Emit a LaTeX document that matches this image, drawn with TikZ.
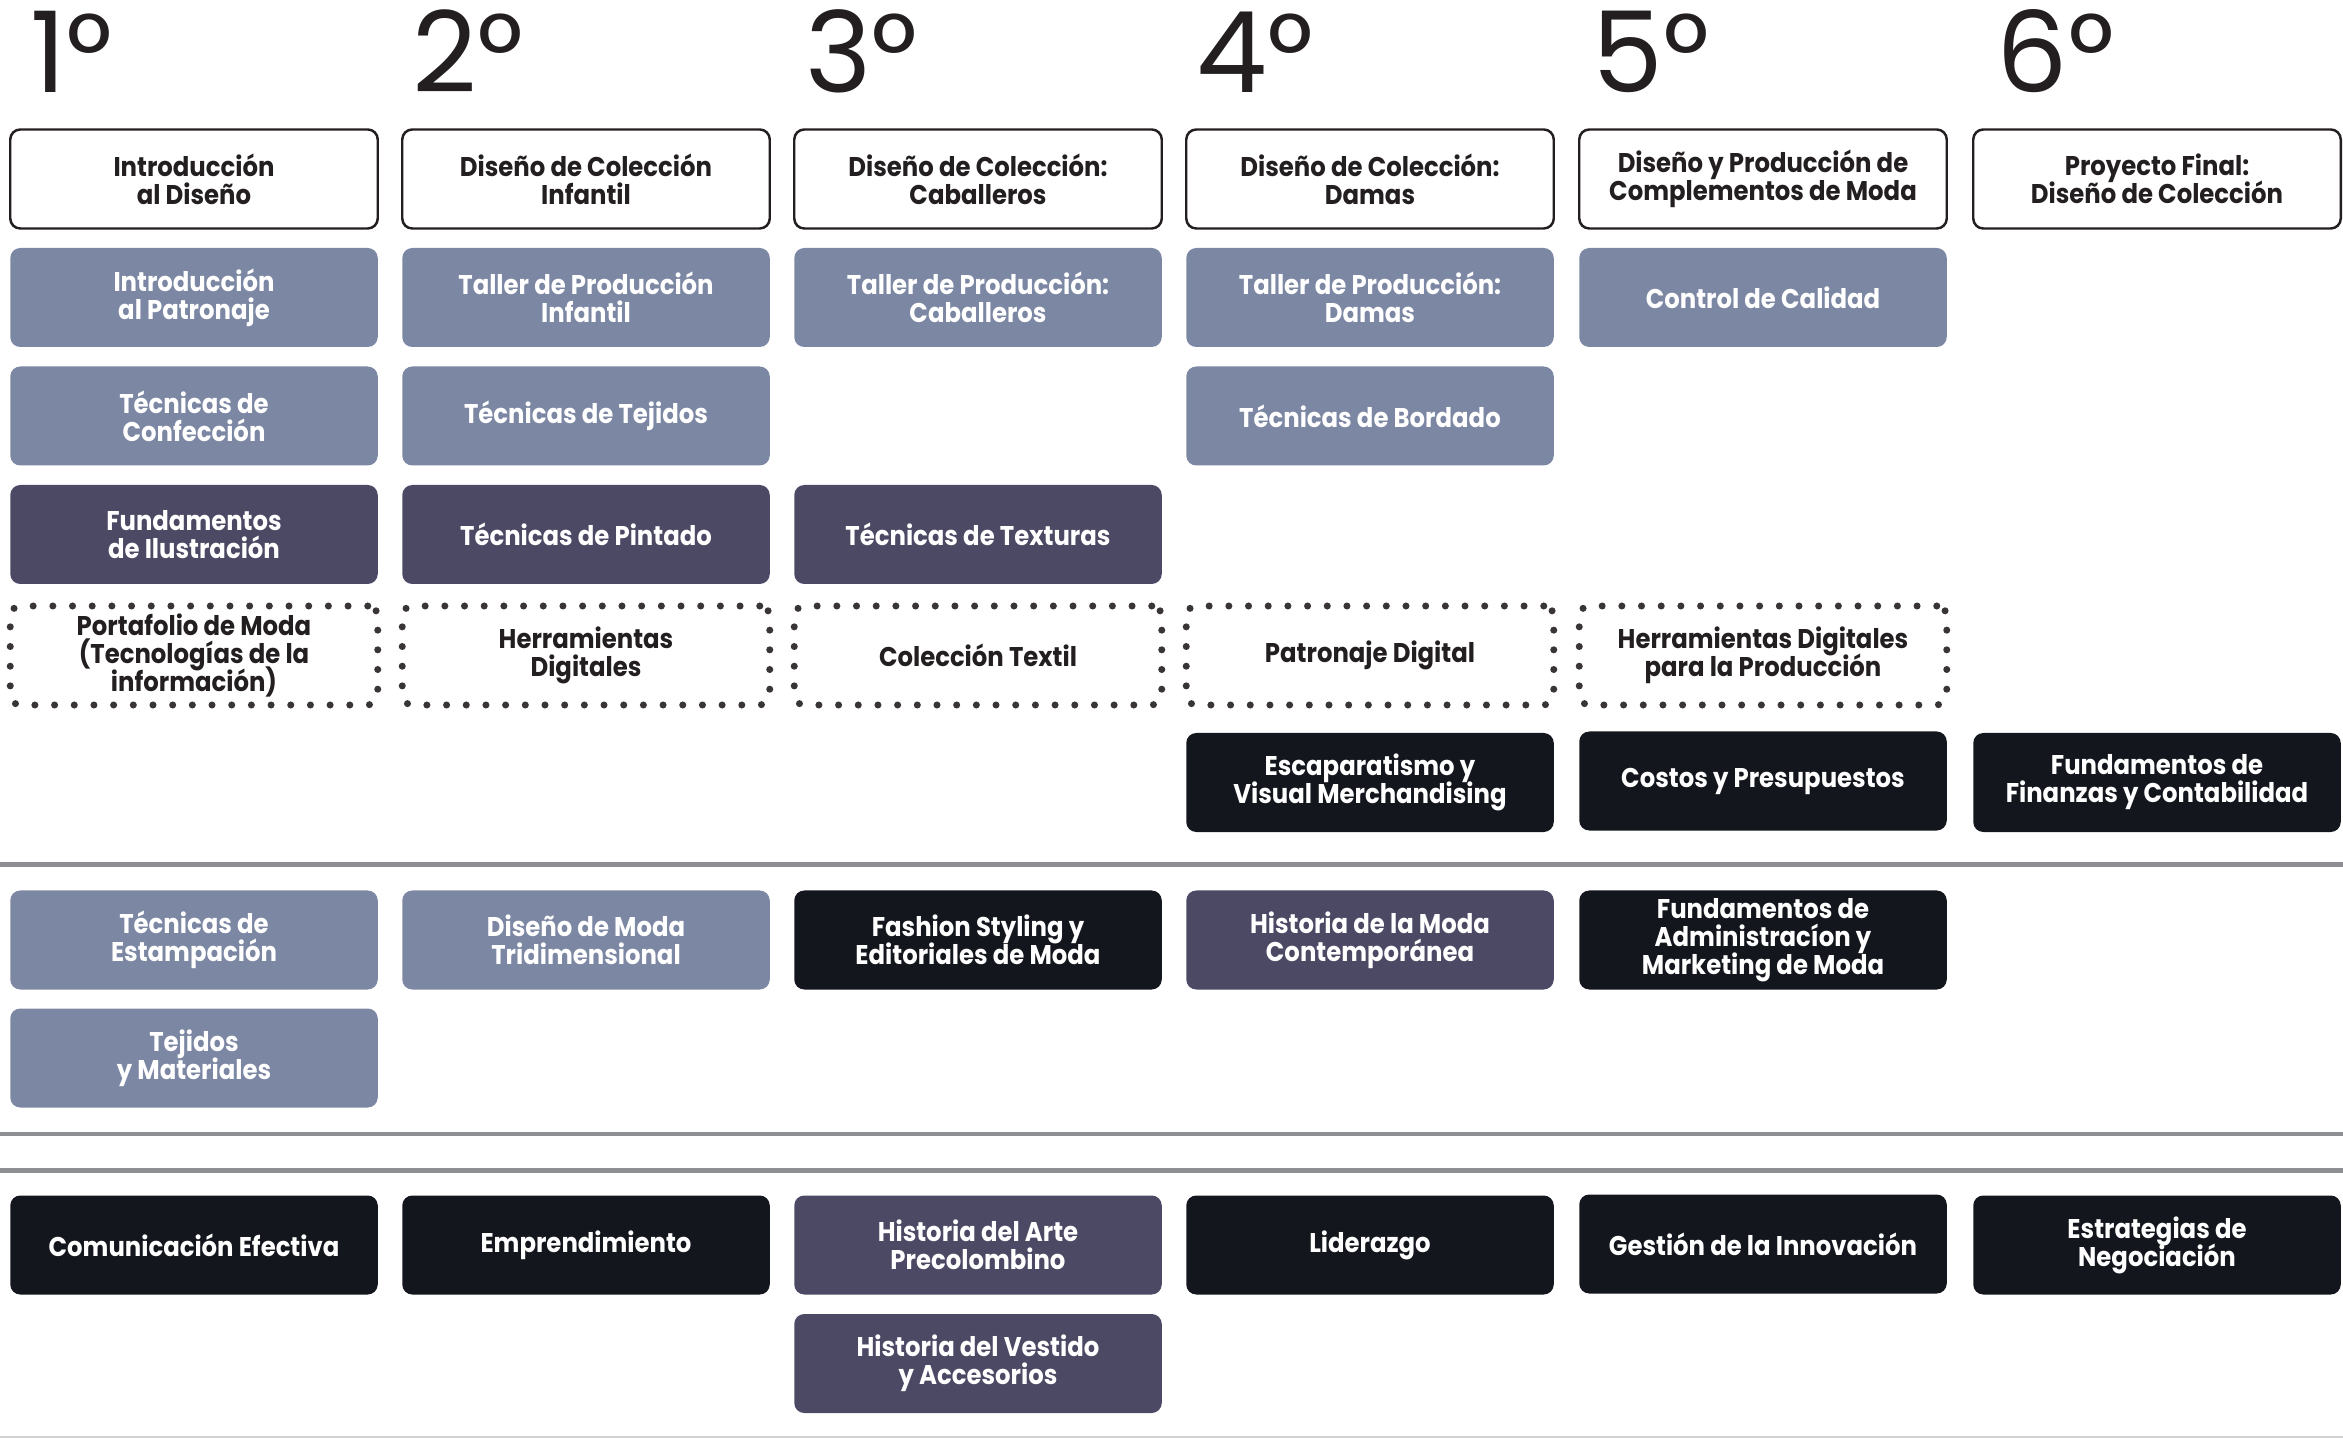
\documentclass[tikz,border=0pt]{standalone}
\usepackage{fontspec}
\newfontfamily\yearfont{Poppins}
\newfontfamily\boxfont{Poppins}[FakeStretch=0.9]
\def\subjfont{\boxfont\bfseries\fontsize{7.7}{8.0}\selectfont\lineskiplimit -20pt\relax}

\definecolor{lightbox}{HTML}{7C87A3}
\definecolor{darkbox}{HTML}{4C4965}
\definecolor{blkbox}{HTML}{13171D}
\definecolor{inkgrey}{HTML}{231F20}
\definecolor{rulegrey}{HTML}{8E8F93}

\tikzset{
	subj/.style={rectangle, rounded corners=0.1cm, minimum width=3.675cm, minimum height=0.99cm,
		align=center, inner sep=0pt, font=\subjfont},
	outlined/.style={subj, draw=inkgrey, line width=0.7pt, text=inkgrey},
	light/.style={subj, fill=lightbox, text=white},
	dark/.style={subj, fill=darkbox, text=white},
	blk/.style={subj, fill=blkbox, text=white},
	digital/.style={subj, draw=inkgrey!90, line width=2pt, line cap=round,
		dash pattern=on 0pt off 5.6pt, text=inkgrey},
	year/.style={anchor=base west, inner sep=0pt, text=inkgrey,
		font=\yearfont\fontsize{32}{32}\selectfont},
	sep/.style={line width=1.4pt, rulegrey}
}

\begin{document}
\begin{tikzpicture}
		%%%%% START %%%%%
		\useasboundingbox (0, 0) rectangle (23.43, -14.38);
		
		% years
		\node[year] (y1) at (0.30, -0.93) {1°};
		\node[year] (y2) at (4.12, -0.93) {2°};
		\node[year] (y3) at (8.05, -0.93) {3°};
		\node[year] (y4) at (11.96, -0.93) {4°};
		\node[year] (y5) at (15.92, -0.93) {5°};
		\node[year] (y6) at (19.96, -0.93) {6°};
		
		% 1st year
		\node[outlined] (introdis) at (1.94, -1.79) {Introducción\\al Diseño};
		\node[light] (intropat) at (1.94, -2.975) {Introducción\\al Patronaje};
		\node[light] (confec) at (1.94, -4.16) {Técnicas de\\Confección};
		\node[dark] (ilustr) at (1.94, -5.345) {Fundamentos\\de Ilustración};
		\node[digital] (portaf) at (1.94, -6.555) {Portafolio de Moda\\(Tecnologías de la\\información)};
		\node[light] (estamp) at (1.94, -9.40) {Técnicas de\\Estampación};
		\node[light] (tejmat) at (1.94, -10.58) {Tejidos\\y Materiales};
		\node[blk] (comunic) at (1.94, -12.45) {Comunicación Efectiva};
		
		% 2nd year
		\node[outlined] (colinf) at (5.86, -1.79) {Diseño de Colección\\Infantil};
		\node[light] (tallinf) at (5.86, -2.975) {Taller de Producción\\Infantil};
		\node[light] (tejidos) at (5.86, -4.16) {Técnicas de Tejidos};
		\node[dark] (pintado) at (5.86, -5.345) {Técnicas de Pintado};
		\node[digital] (herram) at (5.86, -6.555) {Herramientas\\Digitales};
		\node[light] (tridim) at (5.86, -9.40) {Diseño de Moda\\Tridimensional};
		\node[blk] (emprend) at (5.86, -12.45) {Emprendimiento};
		
		% 3rd year
		\node[outlined] (colcab) at (9.78, -1.79) {Diseño de Colección:\\Caballeros};
		\node[light] (tallcab) at (9.78, -2.975) {Taller de Producción:\\Caballeros};
		\node[dark] (texturas) at (9.78, -5.345) {Técnicas de Texturas};
		\node[digital] (coltext) at (9.78, -6.555) {Colección Textil};
		\node[blk] (styling) at (9.78, -9.40) {Fashion Styling y\\Editoriales de Moda};
		\node[dark] (artepre) at (9.78, -12.45) {Historia del Arte\\Precolombino};
		\node[dark] (vestido) at (9.78, -13.635) {Historia del Vestido\\y Accesorios};
		
		% 4th year
		\node[outlined] (coldam) at (13.70, -1.79) {Diseño de Colección:\\Damas};
		\node[light] (talldam) at (13.70, -2.975) {Taller de Producción:\\Damas};
		\node[light] (bordado) at (13.70, -4.16) {Técnicas de Bordado};
		\node[digital] (patdig) at (13.70, -6.555) {Patronaje Digital};
		\node[blk] (escap) at (13.70, -7.825) {Escaparatismo y\\Visual Merchandising};
		\node[dark] (histmoda) at (13.70, -9.40) {Historia de la Moda\\Contemporánea};
		\node[blk] (lider) at (13.70, -12.45) {Liderazgo};
		
		% 5th year
		\node[outlined] (complem) at (17.63, -1.79) {Diseño y Producción de\\Complementos de Moda};
		\node[light] (calidad) at (17.63, -2.975) {Control de Calidad};
		\node[digital] (herprod) at (17.63, -6.555) {Herramientas Digitales\\para la Producción};
		\node[blk] (costos) at (17.63, -7.81) {Costos y Presupuestos};
		\node[blk] (admin) at (17.63, -9.40) {Fundamentos de\\Administracíon y\\Marketing de Moda};
		\node[blk] (innov) at (17.63, -12.44) {Gestión de la Innovación};
		
		% 6th year
		\node[outlined] (final) at (21.57, -1.79) {Proyecto Final:\\Diseño de Colección};
		\node[blk] (finanz) at (21.57, -7.825) {Fundamentos de\\Finanzas y Contabilidad};
		\node[blk] (negoc) at (21.57, -12.45) {Estrategias de\\Negociación};
		
		% separators
		\draw[sep] (0, -8.645) -- (23.43, -8.645);
		\draw[sep] (0, -11.34) -- (23.43, -11.34);
		\draw[sep] (0, -11.705) -- (23.43, -11.705);
		\draw[black!18, line width=0.4pt] (0, -14.37) -- (23.43, -14.37);
		%%%%% END %%%%%
\end{tikzpicture}
\end{document}
